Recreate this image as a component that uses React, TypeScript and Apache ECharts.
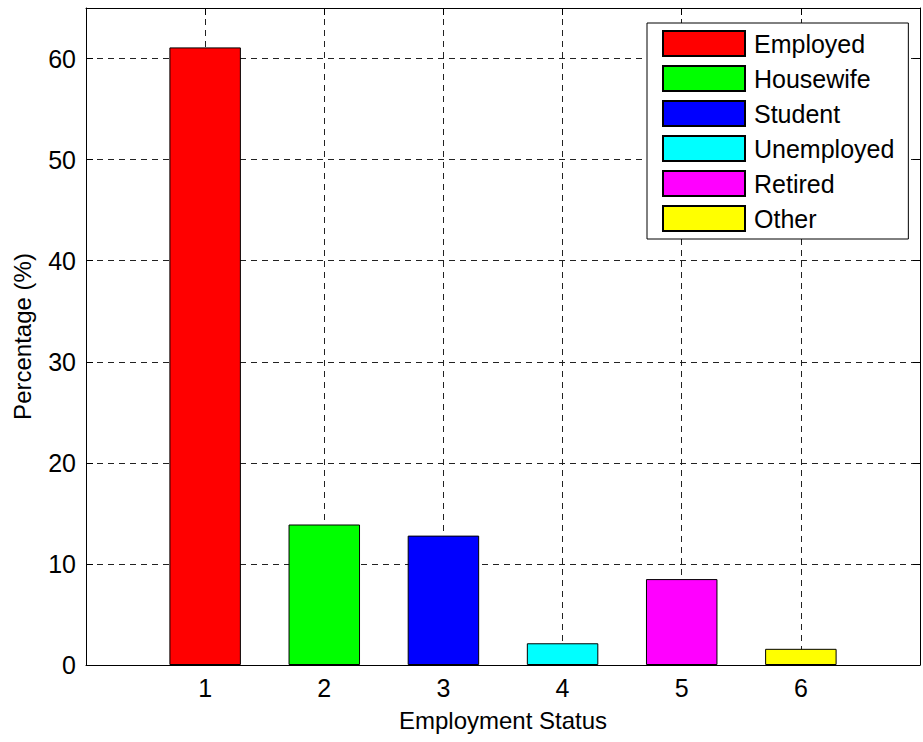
import React, { useEffect, useRef } from 'react';
import * as echarts from 'echarts';

const categories = ['Employed', 'Housewife', 'Student', 'Unemployed', 'Retired', 'Other'];
const positions = [1, 2, 3, 4, 5, 6];
const percentages = [61.1, 13.9, 12.8, 2.15, 8.5, 1.6];
const colors = ['#ff0000', '#00ff00', '#0000ff', '#00ffff', '#ff00ff', '#ffff00'];
const xTickLabels = ['1', '2', '3', '4', '5', '6'];

const FONT = '"Liberation Sans", Arial, Helvetica, sans-serif';

export default function App() {
  const ref = useRef<HTMLDivElement>(null);

  useEffect(() => {
    if (!ref.current) return;
    const chart = echarts.init(ref.current, undefined, { renderer: 'svg' });

    const axisLine = { show: true, onZero: false, lineStyle: { color: '#000', width: 1 } };
    const tickInside = { show: true, inside: true, length: 7, lineStyle: { color: '#000' } };
    const dashed = { show: true, lineStyle: { color: '#222', width: 1, type: [6, 5] as any } };

    const series = categories.map((name, i) => ({
      type: 'bar' as const,
      name,
      data: [[positions[i], percentages[i]]],
      barWidth: '60%',
      barGap: '-100%',
      xAxisIndex: 0,
      yAxisIndex: 0,
      itemStyle: { color: colors[i], borderColor: '#000', borderWidth: 1 },
      emphasis: { disabled: true },
    }));

    chart.setOption({
      animation: false,
      backgroundColor: '#fff',
      textStyle: { fontFamily: FONT },
      grid: { left: 86, right: 3, top: 8, bottom: 77, containLabel: false },
      legend: {
        orient: 'vertical',
        left: 647,
        top: 23,
        itemWidth: 82,
        itemHeight: 25,
        itemGap: 8,
        padding: [7, 14, 7, 15],
        borderColor: '#000',
        borderWidth: 1,
        backgroundColor: '#fff',
        icon: 'rect',
        selectedMode: false,
        textStyle: {
          fontSize: 25,
          lineHeight: 25,
          color: '#000',
          fontFamily: FONT,
          padding: [0, 0, 0, 4],
        },
        data: categories,
      },
      xAxis: [
        {
          type: 'value',
          position: 'bottom',
          min: 0,
          max: 7,
          interval: 1,
          axisLine,
          axisTick: tickInside,
          splitLine: dashed,
          name: 'Employment Status',
          nameLocation: 'middle',
          nameGap: 43,
          nameTextStyle: { fontSize: 24, color: '#000', fontFamily: FONT },
          axisLabel: {
            fontSize: 25,
            color: '#000',
            fontFamily: FONT,
            margin: 10,
            showMinLabel: false,
            showMaxLabel: false,
            formatter: (v: number) => {
              const idx = positions.indexOf(v);
              return idx >= 0 ? xTickLabels[idx] : '';
            },
          },
        },
        {
          type: 'value',
          position: 'top',
          min: 0,
          max: 7,
          interval: 1,
          axisLine,
          axisTick: tickInside,
          axisLabel: { show: false },
          splitLine: { show: false },
        },
      ],
      yAxis: [
        {
          type: 'value',
          position: 'left',
          min: 0,
          max: 65,
          interval: 10,
          axisLine,
          axisTick: tickInside,
          splitLine: dashed,
          name: 'Percentage (%)',
          nameLocation: 'middle',
          nameGap: 52,
          nameTextStyle: { fontSize: 24, color: '#000', fontFamily: FONT },
          axisLabel: {
            fontSize: 25,
            color: '#000',
            fontFamily: FONT,
            margin: 10,
            showMaxLabel: false,
          },
        },
        {
          type: 'value',
          position: 'right',
          min: 0,
          max: 65,
          interval: 10,
          axisLine,
          axisTick: tickInside,
          axisLabel: { show: false },
          splitLine: { show: false },
        },
      ],
      series,
    });

    return () => chart.dispose();
  }, []);

  return (
    <div
      ref={ref}
      style={{ position: 'absolute', left: 0, top: 0, width: 923, height: 742, background: '#fff' }}
    />
  );
}
